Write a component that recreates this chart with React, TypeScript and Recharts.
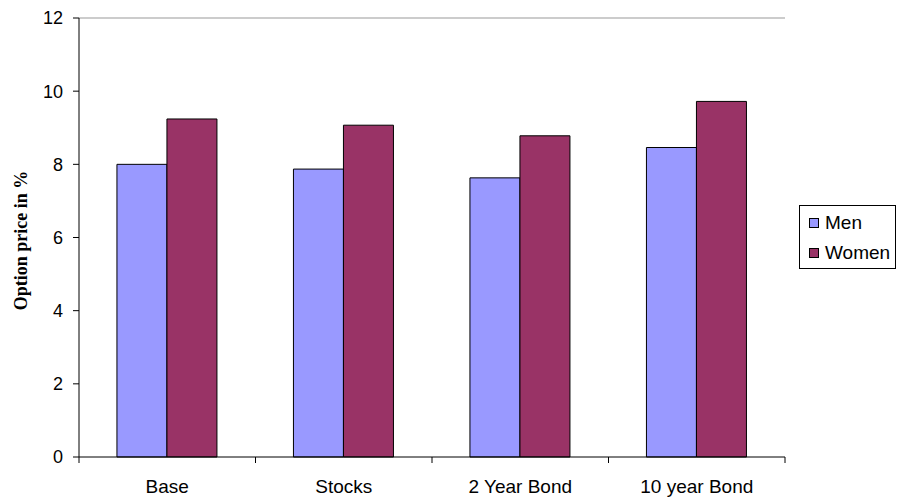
import { Bar, BarChart, Label, Legend, ReferenceLine, XAxis, YAxis } from "recharts";

const categories = ["Base", "Stocks", "2 Year Bond", "10 year Bond"];
const men = [8.0, 7.87, 7.63, 8.46];
const women = [9.24, 9.07, 8.78, 9.72];
const yTicks = [0, 2, 4, 6, 8, 10, 12];

const MEN_COLOR = "#9999ff";
const WOMEN_COLOR = "#993366";
const FONT = "'Liberation Sans', Arial, sans-serif";

const data = categories.map((c, i) => ({ name: c, men: men[i], women: women[i] }));

function CategoryTick(props: any) {
  const { x, y, payload, index, visibleTicksCount } = props;
  const half = payload?.offset ?? 88;
  return (
    <g>
      <line x1={x - half} x2={x - half} y1={y} y2={y + 6} stroke="#000" />
      {index === visibleTicksCount - 1 && (
        <line x1={x + half} x2={x + half} y1={y} y2={y + 6} stroke="#000" />
      )}
      <text x={x} y={y + 36} textAnchor="middle" fill="#000" fontSize={19} fontFamily={FONT}>
        {payload.value}
      </text>
    </g>
  );
}

function LegendBox() {
  const items = [
    { label: "Men", color: MEN_COLOR },
    { label: "Women", color: WOMEN_COLOR },
  ];
  return (
    <div
      style={{
        border: "1px solid #000",
        width: 95,
        height: 62,
        boxSizing: "content-box",
        background: "#fff",
        fontFamily: FONT,
        fontSize: 19,
        color: "#000",
      }}
    >
      {items.map((it, i) => (
        <div
          key={it.label}
          style={{ display: "flex", alignItems: "center", height: 30, marginTop: i === 0 ? 2 : 0 }}
        >
          <span
            style={{
              display: "inline-block",
              width: 8,
              height: 8,
              marginLeft: 9,
              marginRight: 6,
              background: it.color,
              border: "1px solid #000",
            }}
          />
          {it.label}
        </div>
      ))}
    </div>
  );
}

export default function App() {
  return (
    <div style={{ position: "absolute", left: 0, top: 0, width: 898, height: 502, background: "#fff" }}>
      <BarChart
        width={898}
        height={502}
        data={data}
        margin={{ top: 18, right: 113, bottom: 0, left: 19 }}
        barCategoryGap="21.5%"
        barGap={0}
      >
        <XAxis
          dataKey="name"
          tick={<CategoryTick />}
          tickLine={false}
          tickSize={0}
          tickMargin={0}
          axisLine={{ stroke: "#000" }}
          interval={0}
          height={45}
        />
        <YAxis
          yAxisId="left"
          domain={[0, 12]}
          ticks={yTicks}
          width={60}
          tick={{ fill: "#000", fontSize: 18, fontFamily: FONT }}
          tickSize={6}
          tickMargin={10}
          tickLine={{ stroke: "#000" }}
          axisLine={{ stroke: "#000" }}
        >
          <Label
            content={({ viewBox }: any) => {
              const cx = viewBox.x + 2;
              const cy = viewBox.y + viewBox.height / 2 + 3;
              return (
                <text
                  x={cx}
                  y={cy}
                  transform={`rotate(-90 ${cx} ${cy})`}
                  textAnchor="middle"
                  dominantBaseline="central"
                  fontFamily="'Liberation Serif', 'Times New Roman', serif"
                  fontWeight="bold"
                  fontSize={18}
                  fill="#000"
                >
                  Option price in %
                </text>
              );
            }}
          />
        </YAxis>
        <YAxis
          yAxisId="right"
          orientation="right"
          domain={[0, 12]}
          width={0}
          tick={false}
          tickLine={false}
          axisLine={{ stroke: "#999" }}
        />
        <ReferenceLine yAxisId="left" y={12} stroke="#999" />
        <Legend
          layout="vertical"
          align="center"
          verticalAlign="middle"
          wrapperStyle={{ left: 799, top: 205, width: 97, height: 64 }}
          content={() => <LegendBox />}
        />
        <Bar yAxisId="left" dataKey="men" name="Men" fill={MEN_COLOR} stroke="#000" strokeWidth={1} isAnimationActive={false} />
        <Bar yAxisId="left" dataKey="women" name="Women" fill={WOMEN_COLOR} stroke="#000" strokeWidth={1} isAnimationActive={false} />
      </BarChart>
    </div>
  );
}
